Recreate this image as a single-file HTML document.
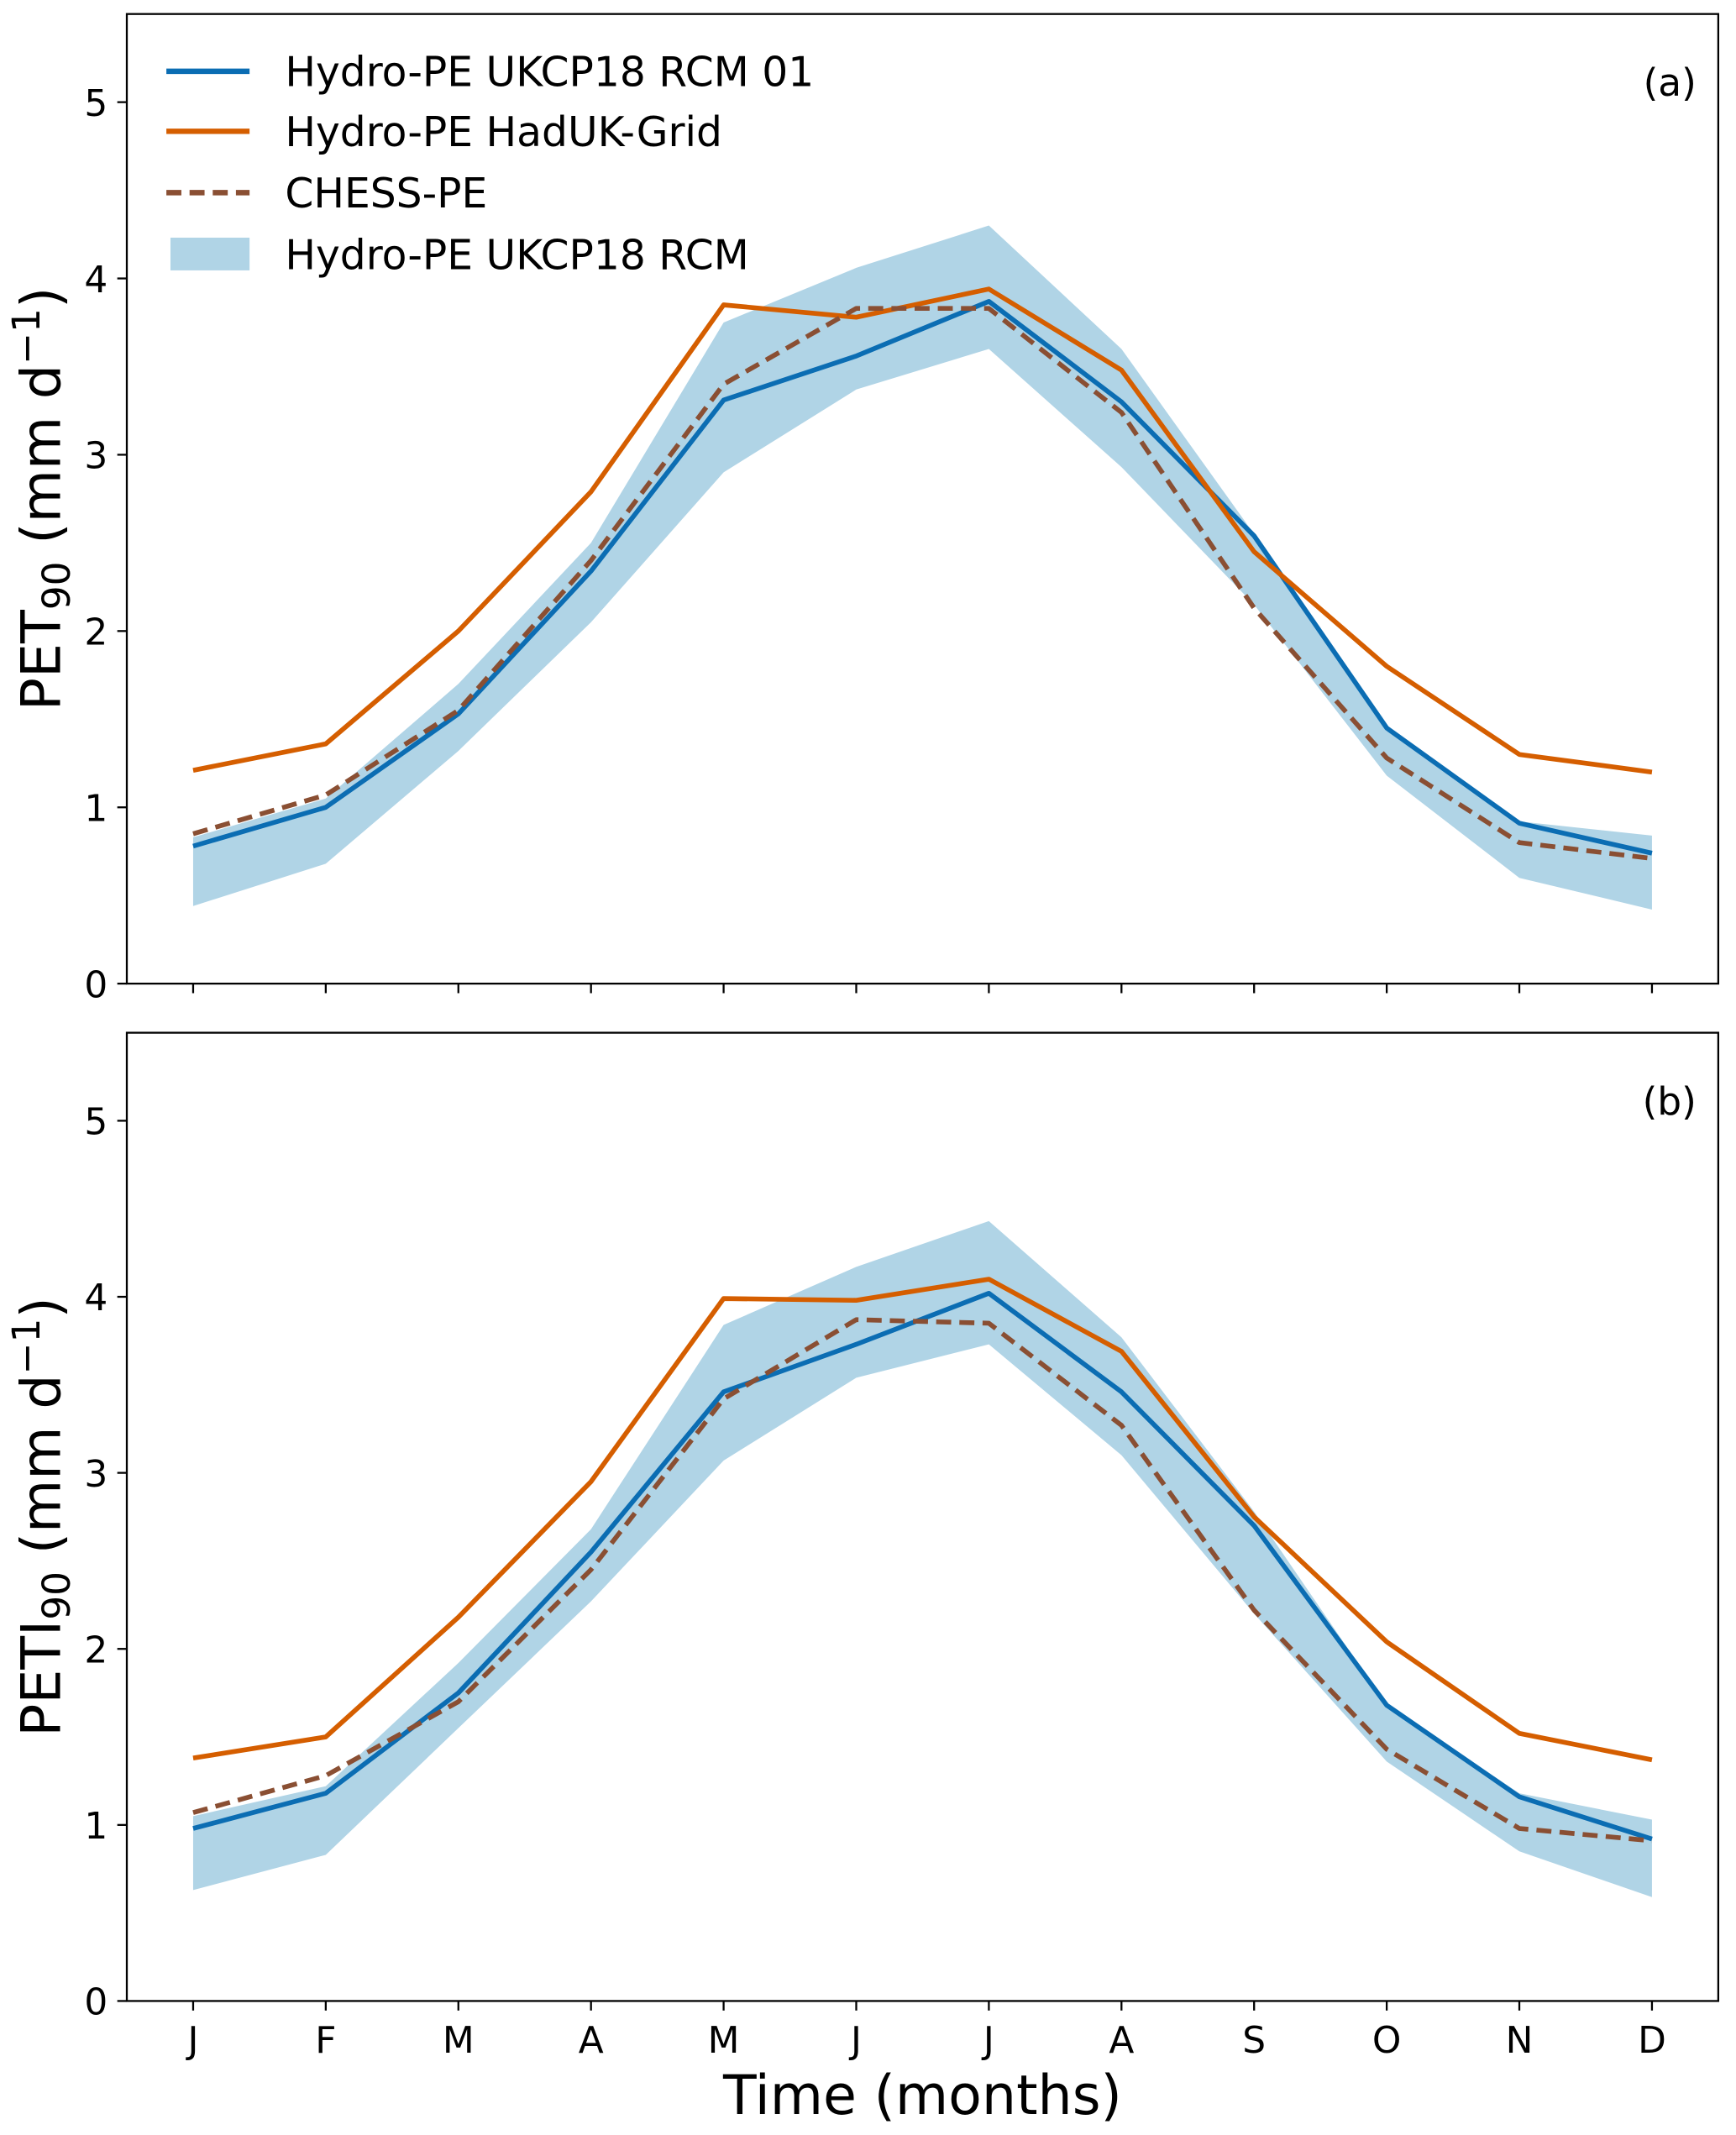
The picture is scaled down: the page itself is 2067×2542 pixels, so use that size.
<!DOCTYPE html>
<html><head><meta charset="utf-8"><style>
html,body{margin:0;padding:0;background:#fff}
svg{display:block}
text{font-family:"DejaVu Sans","Liberation Sans",sans-serif;fill:#000}
</style></head><body>
<svg id="chart" width="2067" height="2542" viewBox="0 0 1273 1565" xmlns="http://www.w3.org/2000/svg"></svg>
<script>
const months = ["J","F","M","A","M","J","J","A","S","O","N","D"];
const yTicks = [0,1,2,3,4,5];
const aRcm01 = [0.78,1.0,1.53,2.34,3.31,3.56,3.87,3.30,2.54,1.45,0.91,0.74];
const aHad = [1.21,1.36,2.0,2.79,3.85,3.78,3.94,3.48,2.45,1.80,1.30,1.20];
const aChess = [0.85,1.07,1.55,2.40,3.40,3.83,3.83,3.24,2.13,1.28,0.80,0.71];
const aUpper = [0.83,1.05,1.70,2.50,3.75,4.06,4.30,3.60,2.55,1.45,0.92,0.84];
const aLower = [0.44,0.68,1.32,2.05,2.90,3.37,3.60,2.93,2.15,1.18,0.60,0.42];
const bRcm01 = [0.98,1.18,1.75,2.55,3.46,3.73,4.02,3.46,2.70,1.68,1.16,0.92];
const bHad = [1.38,1.50,2.18,2.95,3.99,3.98,4.10,3.69,2.75,2.04,1.52,1.37];
const bChess = [1.07,1.28,1.70,2.45,3.42,3.87,3.85,3.27,2.22,1.43,0.98,0.91];
const bUpper = [1.05,1.22,1.92,2.68,3.84,4.17,4.43,3.77,2.78,1.68,1.18,1.03];
const bLower = [0.63,0.83,1.55,2.27,3.07,3.54,3.73,3.10,2.20,1.36,0.85,0.59];

const NS="http://www.w3.org/2000/svg";
const svg=document.getElementById('chart');
function mk(tag,attrs,parent){const e=document.createElementNS(NS,tag);for(const k in attrs)e.setAttribute(k,attrs[k]);(parent||svg).appendChild(e);return e;}
const L=93,R=1260;
function xS(i){return L+(i+0.5)*(R-L)/12;}

function panel(id,top,bottom,up,lo,blue,orange,chess,tag,ylab,showX){
  const g=mk('g',{});
  
  
  const yS=v=>bottom-v*(bottom-top)/5.5;
  let d='';
  up.forEach((v,i)=>{d+=(i?'L':'M')+xS(i)+','+yS(v);});
  for(let i=lo.length-1;i>=0;i--)d+='L'+xS(i)+','+yS(lo[i]);
  const band=mk('path',{d:d+'Z',fill:'#b0d4e6',stroke:'none'},g);
  
  
  function line(vals,color,dash,name){
    const p=mk('polyline',{points:vals.map((v,i)=>xS(i)+','+yS(v)).join(' '),fill:'none',stroke:color,'stroke-width':3.5,'stroke-linejoin':'round'},g);
    if(dash)p.setAttribute('stroke-dasharray',dash);
    
    
  }
  line(blue,'#0b6db3',null,'rcm01-line');
  line(orange,'#d55e00',null,'haduk-line');
  line(chess,'#8a4f33','11,6','chess-line');
  const fr=mk('rect',{x:L,y:top,width:R-L,height:bottom-top,fill:'none',stroke:'#000','stroke-width':1.4},g);
  
  
  yTicks.forEach(t=>{
    mk('line',{x1:L-7,x2:L,y1:yS(t),y2:yS(t),stroke:'#000','stroke-width':1.4},g);
    const tx=mk('text',{x:L-14,y:yS(t)+10,'font-size':27,'text-anchor':'end'},g);
    tx.textContent=t;
    
    
  });
  months.forEach((m,i)=>{
    mk('line',{x1:xS(i),x2:xS(i),y1:bottom,y2:bottom+7,stroke:'#000','stroke-width':1.4},g);
    if(showX){
      const tx=mk('text',{x:xS(i),y:bottom+38,'font-size':27,'text-anchor':'middle'},g);
      tx.textContent=m;
      
      
    }
  });
  const pl=mk('text',{x:1244,y:top+60,'font-size':28,'text-anchor':'end'},g);
  pl.textContent=tag;
  
  
  const yl=mk('text',{transform:`translate(44,${(top+bottom)/2}) rotate(-90)`,'font-size':40,'text-anchor':'middle'},g);
  yl.innerHTML=ylab;
  
  
}
panel('a',10,721,aUpper,aLower,aRcm01,aHad,aChess,'(a)','PET<tspan font-size="28" dy="7">90</tspan><tspan dy="-7"> (mm d</tspan><tspan font-size="28" dy="-15">−1</tspan><tspan dy="15">)</tspan>',false);
panel('b',757,1467,bUpper,bLower,bRcm01,bHad,bChess,'(b)','PETI<tspan font-size="28" dy="7">90</tspan><tspan dy="-7"> (mm d</tspan><tspan font-size="28" dy="-15">−1</tspan><tspan dy="15">)</tspan>',true);

const xt=mk('text',{x:(L+R)/2,y:1550,'font-size':40,'text-anchor':'middle'});
xt.textContent='Time (months)';



const lg=mk('g',{});


const items=[['Hydro-PE UKCP18 RCM 01','#0b6db3','line',null],['Hydro-PE HadUK-Grid','#d55e00','line',null],['CHESS-PE','#8a4f33','line','11,6'],['Hydro-PE UKCP18 RCM','#b0d4e6','patch',null]];
const rows=[52,96,141,186];
items.forEach((it,k)=>{
  const e=mk('g',{},lg);
  
  
  const y=rows[k];
  if(it[2]==='line'){
    const l=mk('line',{x1:122,x2:183,y1:y,y2:y,stroke:it[1],'stroke-width':4},e);
    if(it[3])l.setAttribute('stroke-dasharray',it[3]);
  } else mk('rect',{x:125,y:y-12,width:58,height:24,fill:it[1]},e);
  const t=mk('text',{x:209,y:y+11,'font-size':30},e);
  t.textContent=it[0];
});
</script>
</body></html>
